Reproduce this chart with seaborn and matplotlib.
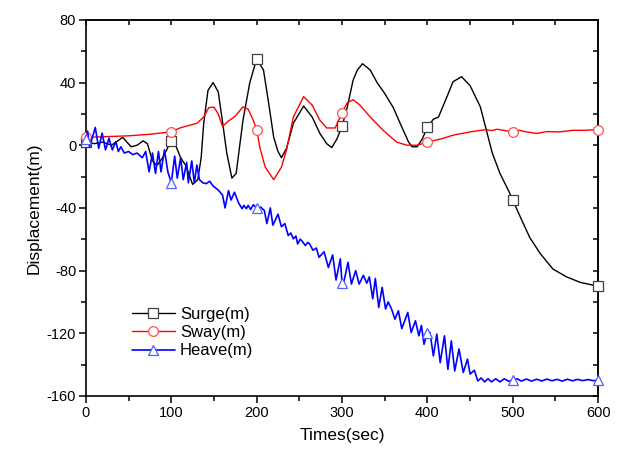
import matplotlib
matplotlib.use("Agg")
import matplotlib.pyplot as plt
from matplotlib.lines import Line2D
from matplotlib.ticker import MultipleLocator
import numpy as np
import pandas as pd
import seaborn as sns

# ---------------- data ----------------
surge_t = [0, 10, 20, 30, 43, 53, 60, 67, 72, 78, 83, 90, 100, 105, 111, 117, 125, 131, 135,
           138, 143, 149, 155, 160, 165, 171, 176, 184, 192, 200, 208, 214, 220, 225, 229, 235,
           243, 255, 265, 274, 282, 288, 294, 300, 306, 313, 318, 324, 333, 341, 350, 360, 370,
           378, 382, 388, 394, 400, 407, 413, 423, 430, 440, 450, 462, 470, 476, 485, 495, 500,
           509, 520, 532, 547, 563, 579, 600]
surge_v = [2, 1, 2, 0, 5, -1, 0, 2.8, 1, -10, -13, -8, 3, 0, -8, -13, -25, -22, -8,
           14, 35, 40, 34, 15, -5, -21, -18, 16, 40, 55, 48, 27, 5, -4, -8, -2,
           14, 25, 18, 7.6, 1, -1.5, 4, 12, 24, 41.6, 48, 52, 48, 40, 33, 24, 11.6,
           2, -1, -1, 4, 11.5, 16.6, 18, 31, 40.5, 43.7, 38, 24.5, 7.6, -5, -18, -29, -35,
           -46, -59, -69, -79, -84, -87.5, -90]

sway_t = [0, 25, 50, 75, 100, 110, 122, 130, 138, 144, 150, 155, 160, 166, 175, 184, 190, 196,
          200, 204, 210, 220, 229, 235, 243, 255, 265, 274, 282, 292, 300, 306, 313, 321, 333,
          348, 364, 376, 388, 400, 416, 430, 450, 469, 475, 482, 490, 500, 508, 515, 528, 540,
          555, 570, 585, 600]
sway_v = [5, 5.5, 6, 7, 8.5, 11, 12.8, 14, 18, 24, 24.3, 20, 12, 15, 18.6, 24.5, 23, 16,
          10, -2, -14, -22, -14, -3, 18, 31, 25.6, 16, 11, 11, 20.7, 27, 29, 25.6, 18,
          9.6, 2, 0, 0, 2, 4, 6.4, 8.5, 10, 9.3, 10.2, 9.4, 8.5, 9.5, 8.6, 7.5, 8.7,
          8.5, 9.5, 9.5, 10]

heave_t = [0, 2, 4.3, 11, 15, 19, 23, 27, 31, 35, 38, 41, 45, 50, 55, 60, 66, 70, 74, 78,
           81.5, 85, 88, 92, 96, 100, 104, 107, 111, 114, 118, 120, 124, 127, 130, 133, 137,
           141, 145, 149, 155, 160, 163, 167, 170, 174, 179, 183, 185, 188, 190, 193, 196,
           200, 205, 209, 212, 216, 219, 225, 229, 233, 237, 240, 243, 246, 248, 251, 253,
           257, 260, 262, 266, 270, 273, 279, 284, 289, 293, 298, 300, 302, 307, 311, 316,
           320, 325, 329, 332, 336, 339, 343, 347, 351, 354, 358, 362, 366, 370, 377, 381,
           386, 390, 393, 396, 400, 403, 407, 411, 415, 420, 424, 428, 432, 437, 442, 447,
           450, 455, 459, 463, 467, 471, 475, 480, 485, 490, 495, 500, 505, 510, 516, 522,
           528, 534, 540, 546, 552, 558, 564, 570, 576, 582, 588, 594, 600]
heave_v = [4, 9, -1, 11.3, -2, 7.7, -3, 4.5, -3, 2.3, -4, -1, -5, -4, -6, -5, -8, -4, -17, -5,
           -18, -4, -17, -3, -17, -24, -7, -21, -8, -22, -11, -24, -10, -24, -12.6, -22, -24,
           -24.5, -23, -26, -28.6, -31.8, -40, -29, -35, -30, -37, -40.5, -38.4, -40.5, -38.4, -41, -38,
           -40, -39.6, -41.7, -50, -40, -51, -44, -52, -50, -57.6, -56, -59.7, -58, -63, -60, -61,
           -64, -62, -63, -67, -65.6, -71.5, -68, -78, -70, -86, -72.5, -88, -87.5, -74.7, -88.6, -80,
           -88.6, -83, -88, -84, -98, -85, -103.5, -90.7, -104.5, -100, -104.5, -111, -105.6, -117, -106.7, -119.5,
           -112, -121.6, -115, -127, -119.5, -119.5, -134.4, -120.5, -138.7, -121.6, -143, -124.8, -144, -130, -145, -136.5,
           -146, -143.6, -150.4, -148.5, -151, -149, -151, -149, -151, -149, -150.5, -150, -149, -150.5, -149.2, -150.5,
           -149.3, -150.4, -149.2, -150.3, -149.4, -150.5, -149.3, -150.3, -149.4, -150.2, -149.5, -150.2, -150]

series_names = ["Surge(m)", "Sway(m)", "Heave(m)"]
x_ticks = [0, 100, 200, 300, 400, 500, 600]
y_ticks = [-160, -120, -80, -40, 0, 40, 80]

# ---------------- styling ----------------
sns.set_theme(style="ticks")
plt.rcParams["font.family"] = ["Liberation Sans", "DejaVu Sans"]
plt.rcParams["axes.unicode_minus"] = False
plt.rcParams["text.color"] = "black"
plt.rcParams["axes.labelcolor"] = "black"
plt.rcParams["xtick.color"] = "black"
plt.rcParams["ytick.color"] = "black"

fig = plt.figure(figsize=(6.27, 4.61), dpi=100)
ax = fig.add_axes([0.137, 0.141, 0.817, 0.816])

colors = ["#000000", "#FF0000", "#0000FF"]
edge_colors = ["#404040", "#FF5050", "#5060FF"]
markers = ["s", "o", "^"]
msizes = [6.5, 7, 7.5]
lws = [1.0, 1.0, 1.2]
data = [(surge_t, surge_v), (sway_t, sway_v), (heave_t, heave_v)]

for (t, v), name, c, ec, m, ms, lw in zip(data, series_names, colors, edge_colors, markers, msizes, lws):
    df = pd.DataFrame({"t": t, "v": v})
    idx = [i for i, tt in enumerate(t) if tt in x_ticks]
    sns.lineplot(data=df, x="t", y="v", ax=ax, color=c, lw=lw, estimator=None,
                 marker=m, markevery=idx, markersize=ms, markerfacecolor="white",
                 markeredgecolor=ec, markeredgewidth=0.9, clip_on=False, zorder=3)

ax.set_xlim(0, 600)
ax.set_ylim(-160, 80)
ax.set_xticks(x_ticks)
ax.set_yticks(y_ticks)
ax.xaxis.set_minor_locator(MultipleLocator(50))
ax.yaxis.set_minor_locator(MultipleLocator(20))
ax.tick_params(which="major", direction="out", length=5, width=1.1, labelsize=10.5,
               colors="black", labelcolor="black", pad=2)
ax.tick_params(which="minor", direction="out", length=3.5, width=1.1, colors="black")
for s in ax.spines.values():
    s.set_linewidth(1.2)
    s.set_color("black")

# inward ticks on top and right
top = ax.secondary_xaxis("top")
top.set_xticks(x_ticks)
top.xaxis.set_minor_locator(MultipleLocator(50))
top.tick_params(which="both", direction="in", length=3.5, width=1.1, labeltop=False, colors="black")
top.spines["top"].set_linewidth(1.2)
right = ax.secondary_yaxis("right")
right.set_yticks(y_ticks)
right.yaxis.set_minor_locator(MultipleLocator(20))
right.tick_params(which="both", direction="in", length=3.5, width=1.1, labelright=False, colors="black")
right.spines["right"].set_linewidth(1.2)

ax.set_xlabel("Times(sec)", fontsize=12.5, labelpad=6, color="black")
ax.set_ylabel("Displacement(m)", fontsize=12.5, labelpad=4, color="black")

handles = [Line2D([0], [0], color=c, lw=lw, marker=m, markersize=ms, markerfacecolor="white",
                  markeredgecolor=ec, markeredgewidth=0.9)
           for c, ec, m, ms, lw in zip(colors, edge_colors, markers, msizes, lws)]
leg = ax.legend(handles, series_names, loc="lower left", bbox_to_anchor=(0.06, 0.06), frameon=False,
                fontsize=12, handlelength=2.6, handletextpad=0.3, labelspacing=0.2)
for txt in leg.get_texts():
    txt.set_color("black")

fig.savefig("out.png", dpi=100)
